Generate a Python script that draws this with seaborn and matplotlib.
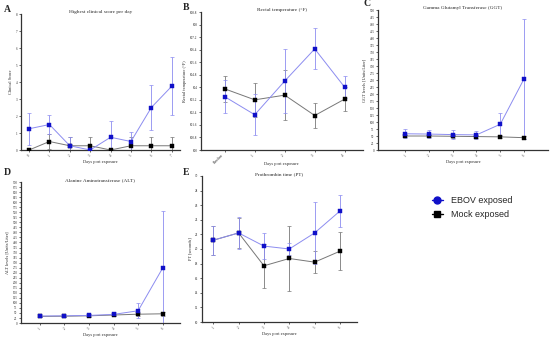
import numpy as np
import seaborn as sns
import matplotlib
matplotlib.use("Agg")
import matplotlib.pyplot as plt
from matplotlib.lines import Line2D

sns.set_style("ticks")
plt.rcParams["font.family"] = ["Liberation Serif", "DejaVu Serif"]

# A - highest clinical score per day
a_days = ["0", "1", "2", "3", "4", "5", "6", "7"]
a_ebov = [1.25, 1.5, 0.25, 0.0, 0.75, 0.5, 2.5, 3.75]
a_ebov_err = [0.95, 0.55, 0.5, 0.0, 0.95, 0.55, 1.3, 1.7]
a_mock = [0.0, 0.5, 0.25, 0.25, 0.0, 0.25, 0.25, 0.25]
a_mock_err = [0.0, 0.45, 0.5, 0.5, 0.0, 0.5, 0.5, 0.5]

# B - rectal temperature
b_days = ["Baseline", "1", "2", "3", "4"]
b_ebov = [103.4, 102.25, 104.4, 106.45, 104.0]
b_ebov_err = [1.05, 1.3, 2.05, 1.3, 0.7]
b_mock = [103.9, 103.2, 103.5, 102.2, 103.25]
b_mock_err = [0.85, 1.1, 1.6, 0.8, 0.75]
b_ticks = [100.0, 100.8, 101.6, 102.4, 103.2, 104.0, 104.8, 105.6, 106.4, 107.2, 108.0, 108.8]

# C - GGT
c_days = ["1", "2", "3", "4", "5", "6"]
c_ebov = [58, 57, 55, 54, 92, 254]
c_ebov_err = [16, 15, 15, 14, 39, 213]
c_mock = [50, 50, 49, 48, 47, 44]
c_mock_err = [5, 5, 5, 5, 4, 6]

# D - ALT
d_days = ["1", "2", "3", "4", "5", "6"]
d_ebov = [35, 36, 38, 43, 61, 273]
d_ebov_err = [6, 6, 8, 10, 37, 283]
d_mock = [33, 34, 36, 40, 44, 46]
d_mock_err = [4, 4, 5, 6, 8, 10]

# E - prothrombin time
e_days = ["1", "2", "3", "4", "5", "6"]
e_ebov = [21.2, 22.2, 20.4, 20.0, 22.2, 25.2]
e_ebov_err = [2.0, 2.2, 1.8, 0.8, 4.3, 2.2]
e_mock = [21.2, 22.2, 17.7, 18.7, 18.2, 19.7]
e_mock_err = [2.0, 2.1, 3.0, 4.4, 1.5, 2.6]

blue_line = "#8c8cf0"
blue_mark = "#1010c8"
grey_line = "#777777"

fig = plt.figure(figsize=(5.5, 3.39), dpi=100)


def panel(rect, days, ebov, ebov_err, mock, mock_err, title, ylabel, yticks, xlim, letter, letter_xy, rot=45):
    ax = fig.add_axes(rect)
    x = np.arange(len(days))
    for vals, errs, lc, mc in [(mock, mock_err, grey_line, "black"),
                               (ebov, ebov_err, blue_line, blue_mark)]:
        ax.errorbar(x, vals, yerr=errs, fmt="none", ecolor=lc, elinewidth=0.6,
                    capsize=1.2, capthick=0.5, zorder=2)
        sns.lineplot(x=x, y=vals, ax=ax, color=lc, lw=0.7, marker="s", markersize=2.4,
                     markerfacecolor=mc, markeredgecolor=mc, markeredgewidth=0.3, zorder=3)
    ax.set_xlim(*xlim)
    ax.set_ylim(yticks[0], yticks[-1])
    ax.set_yticks(yticks)
    ax.set_yticklabels([f"{t:g}" for t in yticks], fontsize=2.3)
    ax.set_xticks(x)
    ax.set_xticklabels(days, fontsize=2.3, rotation=rot)
    ax.tick_params(length=1.5, width=0.5, pad=1)
    for s in ["left", "bottom"]:
        ax.spines[s].set_linewidth(0.9)
        ax.spines[s].set_color("#333333")
    sns.despine(ax=ax)
    ax.set_xlabel("Days post exposure", fontsize=3.2, labelpad=2)
    ax.set_ylabel(ylabel, fontsize=3.2, labelpad=2)
    ax.set_title(title, fontsize=3.8, pad=0)
    fig.text(letter_xy[0] / 550, 1 - letter_xy[1] / 339, letter, fontsize=7,
             fontweight="bold", ha="left", va="center")
    return ax


panel([0.038, 0.5575, 0.289, 0.401], a_days, a_ebov, a_ebov_err, a_mock, a_mock_err,
      "Highest clinical score per day", "Clinical Score", list(range(0, 9)),
      (-0.4, 7.4), "A", (4, 10))
axb = panel([0.365, 0.5575, 0.2945, 0.407], b_days, b_ebov, b_ebov_err, b_mock, b_mock_err,
            "Rectal temperature (°F)", "Rectal temperature (°F)", b_ticks,
            (-0.8, 4.6), "B", (183, 8))
axb.set_xticklabels(b_days, fontsize=2.6, rotation=45, ha="right")
axb.xaxis.set_label_coords(0.5, -0.085)
panel([0.687, 0.5575, 0.309, 0.413], c_days, c_ebov, c_ebov_err, c_mock, c_mock_err,
      "Gamma Glutamyl Transferase (GGT)", "GGT levels [Units/Liter]", list(range(0, 501, 25)),
      (-1.15, 6.0), "C", (364, 4))
panel([0.038, 0.047, 0.289, 0.416], d_days, d_ebov, d_ebov_err, d_mock, d_mock_err,
      "Alanine Aminotransferase (ALT)", "ALT levels [Units/Liter]", list(range(0, 701, 25)),
      (-0.77, 5.7), "D", (4, 172))
panel([0.367, 0.05, 0.282, 0.431], e_days, e_ebov, e_ebov_err, e_mock, e_mock_err,
      "Prothrombin time (PT)", "PT [seconds]", list(range(10, 31, 2)),
      (-0.45, 5.67), "E", (183, 172))

handles = [
    Line2D([], [], color=blue_mark, lw=1.0, marker="o", markersize=5, label="EBOV exposed"),
    Line2D([], [], color="black", lw=1.0, marker="s", markersize=4.5, label="Mock exposed"),
]
fig.legend(handles=handles, loc="upper left", bbox_to_anchor=(0.77, 0.445), frameon=False,
           prop={"family": "Liberation Sans", "size": 6.5}, handlelength=1.3,
           handletextpad=0.8, labelspacing=0.5)

fig.savefig("out.png", dpi=100)
